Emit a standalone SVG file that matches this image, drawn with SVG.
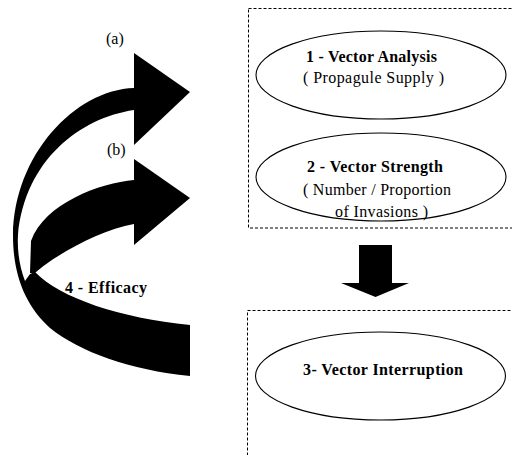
<svg xmlns="http://www.w3.org/2000/svg" width="512" height="455" viewBox="0 0 512 455">
  <style>
    .frame { fill: none; stroke: #000; stroke-width: 1; stroke-dasharray: 3 2; }
    .oval { fill: #fff; stroke: #000; stroke-width: 1.1; }
    .ink { fill: #000; stroke: none; }
    .t { font-family: "Liberation Serif", "Times New Roman", serif; font-size: 16px; fill: #000; }
    .b { font-weight: bold; }
  </style>
  <rect width="512" height="455" fill="#fff"/>

  <!-- dashed frames -->
  <rect class="frame" x="248.5" y="8.5" width="300" height="219.5"/>
  <rect class="frame" x="247.5" y="310.5" width="300" height="200"/>

  <g id="connectors">
    <!-- twisted ribbon: arrow (a) sweeping round into the wide lower band -->
    <path class="ink" d="M134,88 C75,90 14,155 13,235 C13,275 25,305 50,328 C80,352 130,370 190,376 L190,325 C120,318 60,298 35,272 L30,274 L25,281 C20,268 17,252 18,235 C25,160 80,118 134,110 Z"/>
    <polygon class="ink" points="134,53 190,92 134,145"/>
    <!-- arrow (b) -->
    <path class="ink" d="M134,180 C100,183 45,203 31,241 L30,273 L35,273 C55,255 100,230 134,224 Z"/>
    <polygon class="ink" points="134,159 190,198 134,245"/>
    <!-- block arrow down to interruption -->
    <polygon class="ink" points="359,245 392,245 392,283 409,283 375.5,297 341,283 359,283"/>
  </g>

  <g id="label-a"><text class="t" x="106" y="44">(a)</text></g>
  <g id="label-b"><text class="t" x="107" y="155">(b)</text></g>
  <g id="efficacy"><text class="t b" x="65" y="293" textLength="82" lengthAdjust="spacing">4 - Efficacy</text></g>

  <g id="vector-analysis">
    <ellipse class="oval" cx="381" cy="75" rx="125" ry="44"/>
    <text class="t b" x="306" y="62" textLength="131" lengthAdjust="spacing">1 - Vector Analysis</text>
    <text class="t" x="303" y="83" textLength="141" lengthAdjust="spacing">( Propagule Supply )</text>
  </g>

  <g id="vector-strength">
    <ellipse class="oval" cx="381" cy="177" rx="125" ry="44"/>
    <text class="t b" x="307" y="172" textLength="136" lengthAdjust="spacing">2 - Vector Strength</text>
    <text class="t" x="303" y="195" textLength="148" lengthAdjust="spacing">( Number / Proportion</text>
    <text class="t" x="335" y="217" textLength="93" lengthAdjust="spacing">of Invasions )</text>
  </g>

  <g id="vector-interruption">
    <ellipse class="oval" cx="380.5" cy="376" rx="125" ry="44"/>
    <text class="t b" x="303" y="375" textLength="160" lengthAdjust="spacing">3- Vector Interruption</text>
  </g>
</svg>
